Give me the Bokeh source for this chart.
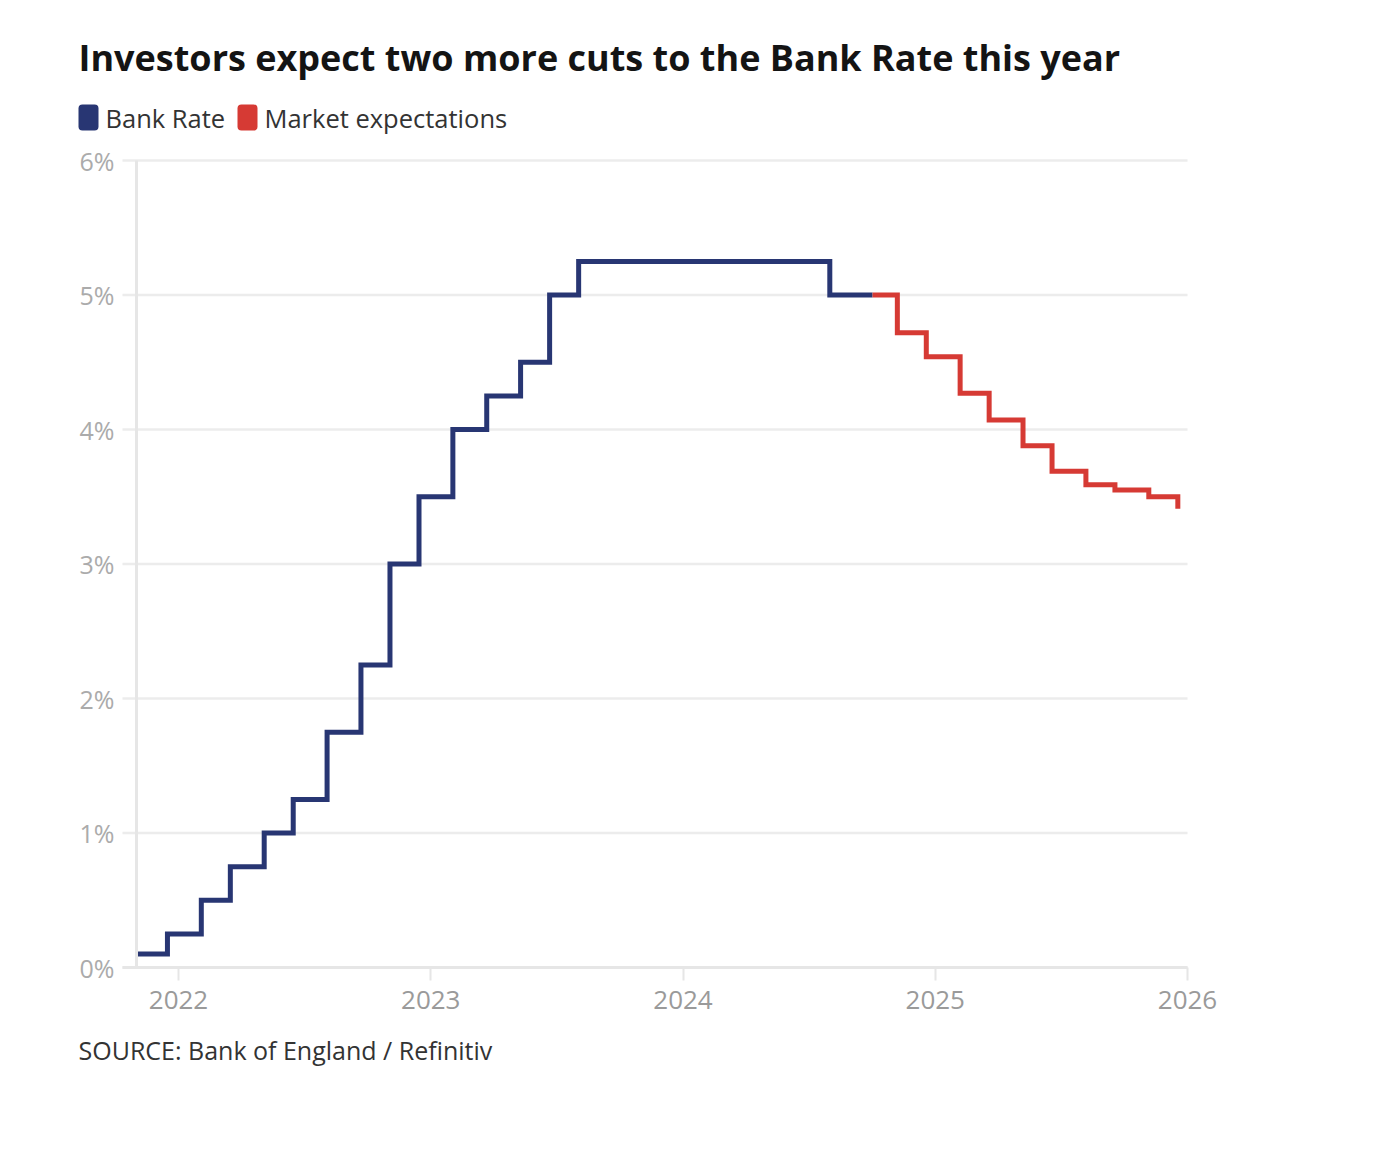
import pandas as pd
from bokeh.plotting import figure
from bokeh.models import (Label, BoxAnnotation, FixedTicker, PrintfTickFormatter, Range1d)
from bokeh.embed import file_html
from bokeh.resources import INLINE

# ---------------- data ----------------
bank_dates = ["2021-11-01", "2021-12-16", "2022-02-03", "2022-03-17", "2022-05-05",
              "2022-06-16", "2022-08-04", "2022-09-22", "2022-11-03", "2022-12-15",
              "2023-02-02", "2023-03-23", "2023-05-11", "2023-06-22", "2023-08-03",
              "2024-08-01", "2024-10-02"]
bank_rate = [0.10, 0.25, 0.50, 0.75, 1.00, 1.25, 1.75, 2.25, 3.00, 3.50,
             4.00, 4.25, 4.50, 5.00, 5.25, 5.00, 5.00]

market_dates = ["2024-10-02", "2024-11-07", "2024-12-19", "2025-02-06", "2025-03-20",
                "2025-05-08", "2025-06-19", "2025-08-07", "2025-09-18", "2025-11-06",
                "2025-12-18"]
market_rate = [5.00, 4.72, 4.54, 4.27, 4.07, 3.88, 3.69, 3.59, 3.55, 3.50, 3.41]

year_ticks = [2022, 2023, 2024, 2025, 2026]
pct_ticks = [0, 1, 2, 3, 4, 5, 6]

title_text = "Investors expect two more cuts to the Bank Rate this year"
series_names = ["Bank Rate", "Market expectations"]
source_text = "SOURCE: Bank of England / Refinitiv"

NAVY = "#283673"
RED = "#d63a34"
FONT = "Open Sans"
GRID = "#ececec"
AXIS = "#e6e6e6"


def to_year(dates):
    out = []
    for d in dates:
        t = pd.Timestamp(d)
        start = pd.Timestamp(year=t.year, month=1, day=1)
        end = pd.Timestamp(year=t.year + 1, month=1, day=1)
        out.append(t.year + (t - start) / (end - start))
    return out


bx = to_year(bank_dates)
mx = to_year(market_dates)

# ---------------- layout (pixels on the canvas) ----------------
W, H = 1240, 1090
PX_X0, PX_X1 = 178, 1187        # pixel of first / last year tick
PX_Y0, PX_Y1 = 967, 160         # pixel of 0% / 6%
PX_GRID_LEFT = 122              # gridlines start here

ppx = (PX_X1 - PX_X0) / (year_ticks[-1] - year_ticks[0])
ppy = (PX_Y0 - PX_Y1) / (pct_ticks[-1] - pct_ticks[0])
x_start = year_ticks[0] - PX_X0 / ppx
x_end = year_ticks[-1] + (W - PX_X1) / ppx
y_start = pct_ticks[0] - (H - PX_Y0) / ppy
y_end = pct_ticks[-1] + PX_Y1 / ppy
grid_left = year_ticks[0] - (PX_X0 - PX_GRID_LEFT) / ppx

p = figure(width=W, height=H, output_backend="svg", toolbar_location=None,
           x_range=Range1d(x_start, x_end), y_range=Range1d(y_start, y_end),
           min_border=0, min_border_left=0, min_border_right=0,
           min_border_top=0, min_border_bottom=0)
p.outline_line_color = None
p.background_fill_color = "white"
p.border_fill_color = "white"
p.grid.visible = False

# gridlines (limited to the plot area)
p.segment(x0=[grid_left] * len(pct_ticks), x1=[year_ticks[-1]] * len(pct_ticks),
          y0=pct_ticks, y1=pct_ticks, line_color=GRID, line_width=2.5)

# x axis at 0%
xa = p.xaxis[0]
xa.fixed_location = 0
xa.bounds = (grid_left, year_ticks[-1])
xa.ticker = FixedTicker(ticks=year_ticks)
xa.axis_line_color = AXIS
xa.axis_line_width = 3
xa.major_tick_line_color = AXIS
xa.major_tick_line_width = 2
xa.major_tick_out = 13
xa.major_tick_in = 0
xa.minor_tick_line_color = None
xa.major_label_text_font = FONT
xa.major_label_text_font_size = "26px"
xa.major_label_text_color = "#9a9a9a"
xa.major_label_standoff = 10

# y axis at the start of the series
ya = p.yaxis[0]
ya.fixed_location = bx[0]
ya.bounds = (pct_ticks[0], pct_ticks[-1])
ya.ticker = FixedTicker(ticks=pct_ticks)
ya.formatter = PrintfTickFormatter(format="%d%%")
ya.axis_line_color = AXIS
ya.axis_line_width = 3
ya.major_tick_line_color = None
ya.major_tick_out = 0
ya.major_tick_in = 0
ya.minor_tick_line_color = None
ya.major_label_text_font = FONT
ya.major_label_text_font_size = "25px"
ya.major_label_text_color = "#ababab"
ya.major_label_standoff = 22

# series
p.step(bx, bank_rate, mode="after", line_color=NAVY, line_width=5,
       line_join="miter", line_cap="butt")
p.step(mx, market_rate, mode="after", line_color=RED, line_width=5,
       line_join="miter", line_cap="butt")

# title
p.add_layout(Label(x=78, y=H - 57, x_units="screen", y_units="screen", text=title_text,
                   text_font=FONT, text_font_style="bold", text_font_size="36px",
                   text_color="#141414", text_baseline="middle"))

# legend
sw_top, sw_bot, leg_mid = H - 104, H - 130, H - 117
for left, color, lx, name in [(78, NAVY, 105, series_names[0]),
                              (237, RED, 264, series_names[1])]:
    p.add_layout(BoxAnnotation(left=left, right=left + 20, top=sw_top, bottom=sw_bot,
                               left_units="screen", right_units="screen",
                               top_units="screen", bottom_units="screen",
                               fill_color=color, fill_alpha=1, line_color=None,
                               border_radius=4))
    p.add_layout(Label(x=lx, y=leg_mid, x_units="screen", y_units="screen", text=name,
                       text_font=FONT, text_font_size="25.5px", text_color="#333333",
                       text_baseline="middle"))

# source
p.add_layout(Label(x=78, y=H - 1049, x_units="screen", y_units="screen", text=source_text,
                   text_font=FONT, text_font_size="25px", text_color="#333333",
                   text_baseline="middle"))

open("out.html", "w").write(file_html(p, INLINE))
